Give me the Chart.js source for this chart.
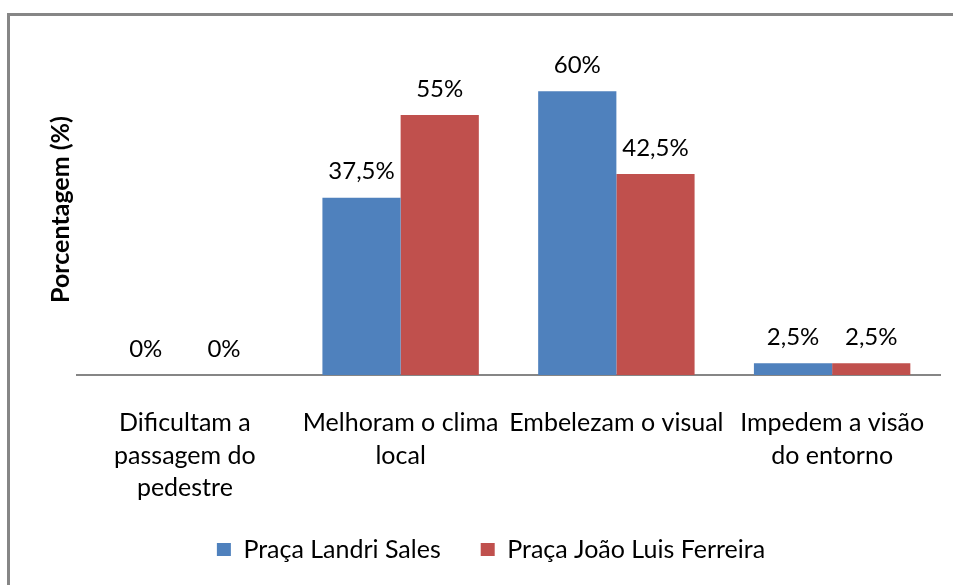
<!DOCTYPE html>
<html>
<head>
<meta charset="utf-8">
<script src="https://cdn.jsdelivr.net/npm/chart.js@4"></script>
<style>
  html, body { margin: 0; padding: 0; background: #fff; }
  body { width: 953px; height: 585px; position: relative; overflow: hidden; }
  #frame { position: absolute; left: 7px; top: 13px; width: 2000px; height: 2000px;
           border-left: 3px solid #868686; border-top: 3px solid #868686; }
  #wrap { position: absolute; left: 0; top: 0; width: 953px; height: 585px; }
</style>
</head>
<body>
<div id="frame"></div>
<div id="wrap"><canvas id="chart"></canvas></div>
<script>
// dados do gráfico
const categorias = [
    ['Dificultam a', 'passagem do', 'pedestre'],
    ['Melhoram o clima', 'local'],
    'Embelezam o visual',
    ['Impedem a visão', 'do entorno']
];
const landriSales = [0, 37.5, 60, 2.5];
const joaoLuis = [0, 55, 42.5, 2.5];
const series = ['Praça Landri Sales', 'Praça João Luis Ferreira'];

const fonte = 'Lato, "Open Sans", sans-serif';

// rótulos em cima das barras
const rotulos = {
    id: 'rotulos',
    afterLayout(chart) {
        // deixa a terceira linha do rótulo do eixo x sem corte
        chart.scales.x.bottom += 30;
    },
    afterDatasetsDraw(chart) {
        const ctx = chart.ctx;
        ctx.save();
        ctx.font = '24px ' + fonte;
        ctx.fillStyle = '#000';
        ctx.textAlign = 'center';
        ctx.textBaseline = 'middle';
        chart.data.datasets.forEach((ds, i) => {
            chart.getDatasetMeta(i).data.forEach((bar, j) => {
                const txt = String(ds.data[j]).replace('.', ',') + '%';
                ctx.fillText(txt, bar.x, bar.y - 26);
            });
        });
        ctx.restore();
    }
};

new Chart(document.getElementById('chart'), {
    type: 'bar',
    data: {
        labels: categorias,
        datasets: [
            { label: series[0], data: landriSales, backgroundColor: '#4F81BD' },
            { label: series[1], data: joaoLuis, backgroundColor: '#C0504D' }
        ]
    },
    options: {
        responsive: true,
        maintainAspectRatio: false,
        animation: false,
        layout: { padding: { left: 42, right: 13, top: 44, bottom: 13 } },
        datasets: { bar: { categoryPercentage: 0.725, barPercentage: 1 } },
        scales: {
            x: {
                grid: { display: false },
                border: { color: '#868686', width: 2 },
                ticks: { color: '#000', padding: 24, maxRotation: 0, autoSkip: false,
                         font: { family: fonte, size: 25, lineHeight: 1.3 } },
                afterFit(scale) { scale.height = 122; }
            },
            y: {
                min: 0, max: 70,
                grid: { display: false },
                border: { display: false },
                ticks: { display: false },
                title: { display: true, text: 'Porcentagem (%)', color: '#000',
                         font: { family: fonte, size: 25, weight: 'bold' } },
                afterFit(scale) { scale.width = 35; }
            }
        },
        plugins: {
            legend: {
                position: 'bottom',
                labels: { color: '#000', boxWidth: 14, boxHeight: 13, padding: 40,
                          font: { family: fonte, size: 25 } }
            },
            tooltip: { enabled: false }
        }
    },
    plugins: [rotulos]
});
</script>
</body>
</html>
